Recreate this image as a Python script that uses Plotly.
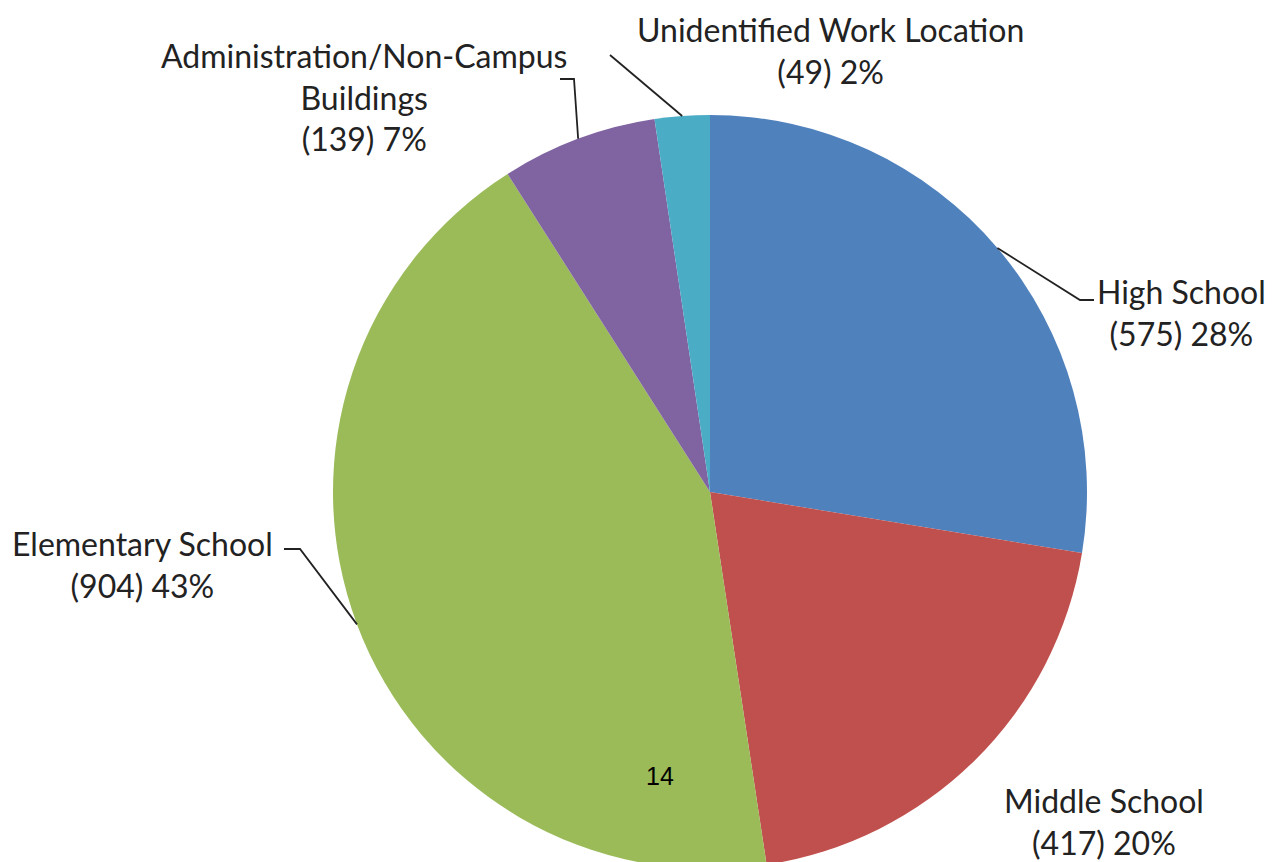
import math
import plotly.graph_objects as go

# ---- data ----
categories = ["High School", "Middle School", "Elementary School",
              "Administration/Non-Campus<br>Buildings", "Unidentified Work Location"]
values = [575, 417, 904, 139, 49]
colors = ["#4F81BD", "#C0504D", "#9BBB59", "#8064A2", "#4BACC6"]

W, H = 1273, 862
OFF = 8                    # default body margin of the html page
CX, CY, R = 710, 492, 377  # pie centre / radius in page px

def px2paper(x, y):
    return (x - OFF) / W, 1 - (y - OFF) / H

x0, _ = px2paper(CX - R, 0)
x1, _ = px2paper(CX + R, 0)
_, ytop = px2paper(0, CY - R)
ybot = max(0.0, ytop - 2 * R / H)

fig = go.Figure(go.Pie(
    labels=categories, values=values, sort=False, direction="clockwise",
    rotation=0, marker=dict(colors=colors, line=dict(width=0)),
    textinfo="none", hoverinfo="label+value+percent", showlegend=False,
    domain=dict(x=[x0, x1], y=[ybot, ytop]),
))

total = sum(values)

# label placement (page px) and elbow points for leader lines
label_pos = {
    0: dict(x=1181, y=313, elbow=[(1080, 300), (1094, 300)]),
    1: dict(x=1104, y=821, elbow=None),
    2: dict(x=142, y=564, elbow=[(300, 549), (284, 549)]),
    3: dict(x=364, y=97, elbow=[(574, 79), (560, 79)]),
    4: dict(x=830, y=51, elbow=[(610, 55)]),
}

font = dict(family="Lato, Open Sans, sans-serif", size=32, color="#222222")
cum = 0
for i, v in enumerate(values):
    mid = (cum + v / 2) / total
    cum += v
    ang = 2 * math.pi * mid
    sx = CX + R * math.sin(ang)
    sy = CY - R * math.cos(ang)
    pct = round(100 * v / total)
    text = f"{categories[i]}<br>({v}) {pct}%"
    lp = label_pos[i]
    ax, ay = px2paper(lp["x"], lp["y"])
    fig.add_annotation(x=ax, y=ay, xref="paper", yref="paper", text=text,
                       showarrow=False, xanchor="center", yanchor="middle",
                       font=font, align="center")
    if lp["elbow"]:
        pts = [(sx, sy)] + lp["elbow"]
        path = "M " + " L ".join(f"{px2paper(x, y)[0]},{px2paper(x, y)[1]}" for x, y in pts)
        fig.add_shape(type="path", xref="paper", yref="paper", path=path,
                      line=dict(color="#222222", width=1.8))

# page number
px, py = px2paper(660, 776)
fig.add_annotation(x=px, y=py, xref="paper", yref="paper", text="14",
                   showarrow=False, xanchor="center", yanchor="middle",
                   font=dict(family="Liberation Sans, Arial", size=25, color="#000000"))

fig.update_layout(width=W, height=H, margin=dict(l=0, r=0, t=0, b=0),
                  paper_bgcolor="white", plot_bgcolor="white")
fig.write_html("out.html")
